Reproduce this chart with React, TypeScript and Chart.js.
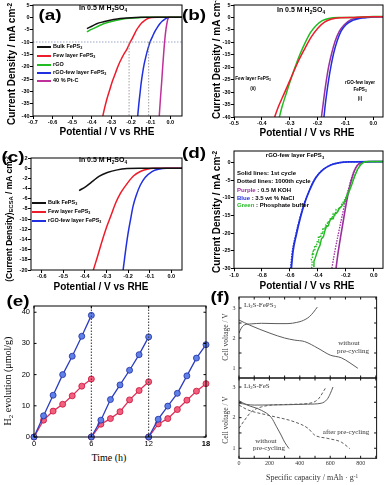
import React, { useEffect, useRef } from "react";
import { Chart, registerables } from "chart.js";

Chart.register(...registerables);

const SANS = '"Liberation Sans", Arial, Helvetica, sans-serif';
const SERIF = '"Liberation Serif", "Times New Roman", Times, serif';

// ===== (a) polarization curves in 0.5 M H2SO4 =====
const aTickV = [-0.7, -0.6, -0.5, -0.4, -0.3, -0.2, -0.1, 0.0];
const aTickJ = [5, 0, -5, -10, -15, -20, -25, -30, -35, -40];
const aBulkV = [-0.425, -0.4, -0.375, -0.34, -0.307, -0.27, -0.239, -0.2, -0.154, -0.1, 0.0, 0.06];
const aBulkJ = [-4.6, -3.6, -2.6, -1.8, -1.2, -0.7, -0.4, -0.15, 0, 0, 0, 0];
const aRgoV = [-0.425, -0.41, -0.39, -0.365, -0.34, -0.305, -0.273, -0.24, -0.205, -0.16, -0.12, 0.0, 0.06];
const aRgoJ = [-5.9, -5.2, -4.5, -3.5, -2.6, -1.8, -1.2, -0.7, -0.4, -0.15, 0, 0, 0];
const aFewV = [-0.344, -0.334, -0.324, -0.311, -0.298, -0.285, -0.273, -0.26, -0.247, -0.235, -0.222, -0.21, -0.197, -0.184, -0.171, -0.158, -0.146, -0.133, -0.12, -0.108, -0.095, -0.07, 0.06];
const aFewJ = [-40, -36.5, -33.4, -30, -26.6, -23.8, -21.2, -18.6, -16.5, -14.7, -13.1, -11, -9.05, -7, -5, -3.5, -2.3, -1.4, -0.7, -0.3, -0.1, 0, 0];
const aHybV = [-0.166, -0.16, -0.154, -0.148, -0.141, -0.133, -0.124, -0.114, -0.103, -0.09, -0.078, -0.065, -0.053, -0.04, -0.027, -0.015, -0.005, 0.06];
const aHybJ = [-40, -35, -30.7, -26.5, -22.6, -19, -15.8, -12.8, -10, -7.7, -5.7, -4, -2.6, -1.5, -0.7, -0.2, 0, 0];
const aPtV = [-0.056, -0.05, -0.044, -0.038, -0.032, -0.027, -0.022, -0.017, -0.012, -0.006, 0.0, 0.06];
const aPtJ = [-40, -33, -26.6, -19.5, -13.1, -8.5, -5, -2.5, -0.7, 0, 0, 0];
const aGuideJ = -10;
const aGuideV = [-0.21, -0.11];

// ===== (b) stability, 0.5 M H2SO4 =====
const bTickV = [-0.5, -0.4, -0.3, -0.2, -0.1, 0.0];
const bTickJ = [5, 0, -5, -10, -15, -20, -25, -30, -35, -40];
const bRedV = [-0.354, -0.34, -0.322, -0.298, -0.272, -0.248, -0.223, -0.199, -0.175, -0.152, -0.116, -0.068, 0.0, 0.035];
const bRedJ = [-40, -35.7, -31.1, -25, -18.3, -13, -7.9, -4.3, -1.9, -0.7, -0.1, 0, 0.3, 0.3];
const bGrnV = [-0.337, -0.327, -0.314, -0.298, -0.28, -0.262, -0.243, -0.225, -0.205, -0.183, -0.16, -0.125, -0.07, 0.0, 0.035];
const bGrnJ = [-40, -35.7, -31.1, -25.5, -19.7, -14.5, -9.8, -6, -3.2, -1.3, -0.4, -0.05, 0, 0.4, 0.4];
const bPurV = [-0.186, -0.181, -0.175, -0.168, -0.16, -0.149, -0.137, -0.122, -0.104, -0.08, -0.056, -0.032, 0.0, 0.035];
const bPurJ = [-40, -35.7, -30.4, -25, -19.7, -14.3, -9.6, -5.6, -2.9, -0.9, -0.3, 0, 0.3, 0.3];
const bBluV = [-0.177, -0.173, -0.167, -0.16, -0.152, -0.142, -0.13, -0.116, -0.098, -0.074, -0.05, -0.02, 0.0, 0.035];
const bBluJ = [-40, -35.7, -30.4, -25, -19.7, -14.3, -9.6, -5.6, -2.9, -1.2, -0.4, 0, 0.2, 0.3];

// ===== (c) ECSA-normalised =====
const cTickV = [-0.6, -0.5, -0.4, -0.3, -0.2, -0.1, 0.0];
const cTickJ = [2, 0, -2, -4, -6, -8, -10, -12, -14, -16, -18, -20];
const cBulkV = [-0.427, -0.396, -0.365, -0.335, -0.296, -0.25, -0.204, -0.15, 0.05];
const cBulkJ = [-4.4, -3.6, -2.6, -1.6, -0.85, -0.33, -0.07, 0, 0];
const cFewV = [-0.361, -0.342, -0.319, -0.299, -0.281, -0.258, -0.235, -0.204, -0.174, -0.143, -0.112, -0.082, 0.05];
const cFewJ = [-20, -17.4, -14.1, -11.5, -9.5, -6.9, -4.9, -3, -1.5, -0.66, -0.2, 0, 0];
const cHybV = [-0.223, -0.217, -0.209, -0.2, -0.189, -0.177, -0.161, -0.143, -0.12, -0.089, -0.059, -0.02, 0.05];
const cHybJ = [-20, -18, -15.4, -12.8, -10.2, -7.5, -5.2, -3.3, -1.8, -0.66, -0.2, 0, 0];

// ===== (d) rGO-few layer FePS3 in other electrolytes =====
const dTickV = [-1.0, -0.8, -0.6, -0.4, -0.2, 0.0];
const dTickJ = [0, -5, -10, -15, -20, -25, -30];
const dBluV = [-0.59, -0.578, -0.554, -0.526, -0.494, -0.458, -0.415, -0.363, -0.303, -0.243, -0.17, 0.066];
const dBluJ = [-30, -25.2, -20.4, -15.7, -11.4, -7.7, -4.3, -2.0, -0.6, 0, 0.2, 0.3];
const dBluDV = [-0.596, -0.583, -0.558, -0.529, -0.496, -0.46, -0.416, -0.364, -0.303, -0.243, -0.17, 0.066];
const dBluDJ = [-30, -25.2, -20.4, -15.7, -11.4, -7.7, -4.3, -2.0, -0.6, 0, 0.2, 0.3];
const dPurV = [-0.27, -0.255, -0.235, -0.215, -0.195, -0.175, -0.155, -0.135, -0.115, -0.095, -0.07, 0.0, 0.066];
const dPurJ = [-30, -25.5, -20.5, -15.8, -11.2, -7.3, -4.2, -2.0, -0.7, -0.1, 0.2, 0.3, 0.3];
const dPurDV = [-0.3, -0.28, -0.255, -0.23, -0.205, -0.18, -0.158, -0.137, -0.117, -0.095, -0.07, 0.0, 0.066];
const dPurDJ = [-30, -25.5, -20.5, -15.8, -11.2, -7.3, -4.2, -2.0, -0.7, -0.1, 0.2, 0.3, 0.3];
const dGrnV = [-0.434, -0.428, -0.42, -0.41, -0.398, -0.385, -0.374, -0.36, -0.35, -0.339, -0.325, -0.315, -0.303, -0.29, -0.28, -0.268, -0.255, -0.245, -0.232, -0.215, -0.196, -0.178, -0.16, -0.136, -0.112, -0.09, -0.07, -0.04, 0.0, 0.066];
const dGrnJ = [-29.4, -28.0, -27.2, -26.0, -24.6, -23.5, -21.6, -21.0, -19.4, -18.2, -17.9, -16.5, -15.8, -15.9, -14.6, -14.4, -13.6, -13.0, -12.5, -11.5, -10.0, -8.4, -6.6, -3.8, -1.6, -0.4, 0.1, 0.3, 0.3, 0.3];
const dGrnDV = [-0.445, -0.44, -0.447, -0.438, -0.442, -0.43, -0.436, -0.42, -0.425, -0.41, -0.404, -0.392, -0.398, -0.38, -0.375, -0.362, -0.366, -0.35, -0.343, -0.335, -0.33, -0.318, -0.31, -0.3, -0.29, -0.278, -0.27, -0.258, -0.25, -0.24, -0.228, -0.215, -0.2, -0.18, -0.162, -0.14, -0.118, -0.095, -0.075, -0.05, 0.0, 0.066];
const dGrnDJ = [-30, -28.5, -27.4, -26.8, -25.6, -26.2, -24.7, -25.0, -23.6, -23.8, -22.2, -22.6, -20.9, -21.3, -19.8, -20.2, -18.6, -18.9, -17.8, -18.3, -16.7, -17.1, -15.6, -16.0, -14.5, -14.9, -13.4, -13.9, -12.6, -13.0, -11.6, -11.0, -9.8, -8.0, -6.3, -4.0, -2.0, -0.6, 0, 0.3, 0.3, 0.3];

// ===== (e) H2 evolution cycles =====
const eTickT = [0, 6, 12, 18];
const eTickH = [0, 10, 20, 30, 40];
const eT1 = [0, 1, 2, 3, 4, 5, 6];
const eT2 = [6, 7, 8, 9, 10, 11, 12];
const eT3 = [12, 13, 14, 15, 16, 17, 18];
const eBlue1 = [0, 6.8, 13.4, 20, 25.9, 32.3, 39];
const eBlue2 = [0, 5.4, 12, 16.7, 21.4, 26.4, 32.1];
const eBlue3 = [0, 5.7, 9.9, 14, 19.6, 25.3, 29.6];
const eRed1 = [0, 5.4, 8.3, 10.5, 13.2, 16.3, 18.6];
const eRed2 = [0, 4.1, 5.9, 8.1, 11.9, 14.9, 17.7];
const eRed3 = [0, 4.2, 5.9, 8.8, 11.8, 14.7, 17.1];
const eDivT = [6, 12];

// ===== (f) Li2S cells =====
const fTickCap = [0, 200, 400, 600, 800];
const fTickV = [1, 2, 3];
const fMinorCap = [0, 100, 200, 300, 400, 500, 600, 700, 800, 900];
const fMinorV = [1, 1.5, 2, 2.5, 3];
const fTopChgC = [0, 15, 37, 80, 147, 250, 322, 380, 410, 440, 465, 490, 515];
const fTopChgV = [2.16, 2.33, 2.44, 2.47, 2.49, 2.48, 2.48, 2.52, 2.56, 2.63, 2.72, 2.86, 3.03];
const fTopDisC = [0, 70, 204, 300, 366, 432, 519, 600, 673, 730, 782];
const fTopDisV = [2.6, 2.43, 2.16, 2.0, 1.93, 1.88, 1.66, 1.43, 1.34, 1.17, 0.99];
const fBotChgC = [0, 100, 300, 450, 540, 580, 600, 618];
const fBotChgV = [2.47, 2.41, 2.42, 2.44, 2.47, 2.6, 2.78, 3.0];
const fBotDisC = [0, 50, 147, 213, 245, 280, 300, 329];
const fBotDisV = [2.55, 2.42, 2.24, 2.0, 1.72, 1.4, 1.2, 0.99];
const fBotChgDC = [0, 37, 81, 147, 300, 450, 520, 568];
const fBotChgDV = [1.65, 1.92, 2.19, 2.35, 2.43, 2.46, 2.6, 2.96];
const fBotDisDC = [0, 60, 191, 366, 454, 498, 585, 673, 728];
const fBotDisDV = [2.41, 2.25, 2.08, 1.86, 1.65, 1.43, 1.32, 1.2, 0.99];

const pts = (xs: number[], ys: number[]) => xs.map((x, i) => ({ x, y: ys[i] }));
const curve = (xs: number[], ys: number[], color: string, width = 1.5, extra: any = {}) => ({
  data: pts(xs, ys),
  borderColor: color,
  borderWidth: width,
  pointRadius: 0,
  fill: false,
  cubicInterpolationMode: "monotone",
  ...extra,
});
const seg = (x1: number, y1: number, x2: number, y2: number, color: string, width = 0.8) => ({
  data: [{ x: x1, y: y1 }, { x: x2, y: y2 }],
  borderColor: color,
  borderWidth: width,
  borderDash: [1.5, 1.5],
  pointRadius: 0,
  fill: false,
});
const marked = (xs: number[], ys: number[], line: string, fillC: string, edge: string) => ({
  data: pts(xs, ys),
  borderColor: line,
  borderWidth: 1.3,
  pointRadius: 3,
  pointBackgroundColor: fillC,
  pointBorderColor: edge,
  pointBorderWidth: 0.8,
  fill: false,
  tension: 0,
  clip: false,
});

const framePlugin: any = {
  id: "frame",
  afterDatasetsDraw(chart: any, _a: any, o: any) {
    const { ctx, chartArea: a } = chart;
    ctx.save();
    ctx.strokeStyle = o.color || "#000";
    ctx.lineWidth = o.width || 1;
    ctx.strokeRect(a.left, a.top, a.right - a.left, a.bottom - a.top);
    const len = o.inLen || 0;
    if (len) {
      const xs = chart.scales.x;
      const ys = chart.scales.y;
      ctx.beginPath();
      for (const v of o.inX || []) {
        const p = xs.getPixelForValue(v);
        ctx.moveTo(p, a.bottom); ctx.lineTo(p, a.bottom - len);
        ctx.moveTo(p, a.top); ctx.lineTo(p, a.top + len);
      }
      for (const v of o.inY || []) {
        const p = ys.getPixelForValue(v);
        ctx.moveTo(a.left, p); ctx.lineTo(a.left + len, p);
        ctx.moveTo(a.right, p); ctx.lineTo(a.right - len, p);
      }
      ctx.stroke();
    }
    ctx.restore();
  },
};

type Ax = {
  min: number; max: number; ticks: number[]; labels?: boolean; fmt?: (v: number) => string;
  size?: number; family?: string; weight?: string; color?: string; tickLen?: number; pad?: number; boldAt?: number;
};
function axis(o: Ax) {
  const tl = o.tickLen ?? 0;
  return {
    type: "linear",
    min: o.min,
    max: o.max,
    afterBuildTicks: (s: any) => { s.ticks = o.ticks.map((v) => ({ value: v })); },
    grid: { display: tl > 0, drawOnChartArea: false, drawTicks: tl > 0, tickLength: tl, color: "#000", lineWidth: 1 },
    border: { display: false },
    ticks: {
      display: o.labels !== false,
      autoSkip: false,
      maxRotation: 0,
      minRotation: 0,
      padding: o.pad ?? 0.5,
      color: o.color ?? "#000",
      font: (c: any) => ({
        family: o.family ?? SANS,
        size: o.size ?? 5.5,
        weight: o.boldAt !== undefined && c.tick && c.tick.value === o.boldAt ? "bold" : o.weight ?? "bold",
      }),
      callback: (v: any) => (o.fmt ? o.fmt(Number(v)) : String(v)),
    },
  };
}

type Spec = { L: number; T: number; R: number; B: number; wy: number; x: any; y: any; datasets: any[]; frame: any };

function PanelChart({ s }: { s: Spec }) {
  const ref = useRef<HTMLCanvasElement | null>(null);
  const padT = 10;
  const cl = s.L - s.wy;
  const ct = s.T - padT;
  const W = Math.ceil(s.R - cl + 10);
  const H = Math.ceil(s.B - ct + 14);
  const padR = W - (s.R - cl);
  const hx = H - (s.B - ct);
  useEffect(() => {
    const chart = new Chart(ref.current as HTMLCanvasElement, {
      type: "line",
      data: { datasets: s.datasets },
      options: {
        responsive: false,
        animation: false,
        events: [],
        devicePixelRatio: 1,
        layout: { padding: { top: padT, right: padR, bottom: 0, left: 0 } },
        scales: {
          x: { ...s.x, afterFit: (sc: any) => { sc.height = hx; } },
          y: { ...s.y, afterFit: (sc: any) => { sc.width = s.wy; } },
        },
        plugins: { legend: { display: false }, tooltip: { enabled: false }, frame: s.frame },
      } as any,
      plugins: [framePlugin],
    });
    return () => chart.destroy();
  }, []);
  return (
    <canvas ref={ref} width={W} height={H}
      style={{ position: "absolute", left: cl, top: ct, width: W, height: H }} />
  );
}

const pot = (v: number) => v.toFixed(1);

const RED = "#ee1c2a";
const GRN = "#22bb22";
const BLU = "#2030e0";
const PNK = "#c0309a";
const PUR = "#9a2f9e";

const specA: Spec = {
  L: 32.7, T: 5.3, R: 181.7, B: 116.3, wy: 22,
  x: axis({ min: -0.7, max: 0.06, ticks: aTickV, fmt: pot, tickLen: 3 }),
  y: axis({ min: -40, max: 5, ticks: aTickJ, tickLen: 3 }),
  frame: { color: "#000", width: 1 },
  datasets: [
    seg(-0.7, aGuideJ, 0.06, aGuideJ, "#8090b8"),
    seg(aGuideV[0], aGuideJ, aGuideV[0], -40, "#888"),
    seg(aGuideV[1], aGuideJ, aGuideV[1], -40, "#888"),
    curve(aBulkV, aBulkJ, "#111"),
    curve(aRgoV, aRgoJ, GRN),
    curve(aFewV, aFewJ, RED),
    curve(aHybV, aHybJ, BLU),
    curve(aPtV, aPtJ, PNK),
  ],
};

const specB: Spec = {
  L: 234.3, T: 5.3, R: 383.3, B: 117.3, wy: 22,
  x: axis({ min: -0.5, max: 0.035, ticks: bTickV, fmt: pot, tickLen: 3 }),
  y: axis({ min: -40, max: 5, ticks: bTickJ, tickLen: 3 }),
  frame: { color: "#000", width: 1 },
  datasets: [
    curve(bRedV, bRedJ, RED),
    curve(bGrnV, bGrnJ, GRN),
    curve(bBluV, bBluJ, BLU),
    curve(bPurV, bPurJ, PUR),
  ],
};

const specC: Spec = {
  L: 30.7, T: 158, R: 181.7, B: 270, wy: 22,
  x: axis({ min: -0.65, max: 0.05, ticks: cTickV, fmt: pot, tickLen: 3 }),
  y: axis({ min: -20, max: 2, ticks: cTickJ, tickLen: 3 }),
  frame: { color: "#000", width: 1 },
  datasets: [
    curve(cBulkV, cBulkJ, "#111"),
    curve(cFewV, cFewJ, RED),
    curve(cHybV, cHybJ, BLU),
  ],
};

const specD: Spec = {
  L: 234.3, T: 151, R: 383.3, B: 268.3, wy: 22,
  x: axis({ min: -1.0, max: 0.066, ticks: dTickV, fmt: pot, tickLen: 3 }),
  y: axis({ min: -30, max: 3.3, ticks: dTickJ, tickLen: 3 }),
  frame: { color: "#000", width: 1 },
  datasets: [
    curve(dGrnDV, dGrnDJ, GRN, 1.3, { cubicInterpolationMode: "default", tension: 0, borderDash: [1.5, 1.2] }),
    curve(dGrnV, dGrnJ, GRN, 1.4, { cubicInterpolationMode: "default", tension: 0 }),
    curve(dBluDV, dBluDJ, BLU, 1.3, { borderDash: [1.5, 1.2] }),
    curve(dBluV, dBluJ, BLU, 1.8),
    curve(dPurDV, dPurDJ, PUR, 1.3, { borderDash: [1.5, 1.2] }),
    curve(dPurV, dPurJ, PUR, 1.6),
  ],
};

const specE: Spec = {
  L: 34, T: 306, R: 206, B: 437, wy: 24,
  x: axis({ min: 0, max: 18, ticks: eTickT, size: 7.5, weight: "normal", boldAt: 18, pad: 2.5 }),
  y: axis({ min: 0, max: 42, ticks: eTickH, size: 7.5, weight: "normal", pad: 4 }),
  frame: { color: "#000", width: 1, inLen: 2.5, inX: eTickT, inY: eTickH },
  datasets: [
    seg(eDivT[0], 0, eDivT[0], 42, "#333", 1),
    seg(eDivT[1], 0, eDivT[1], 42, "#333", 1),
    marked(eT1, eBlue1, "#2b3dbf", "#5f80e8", "#1f2f9f"),
    marked(eT2, eBlue2, "#2b3dbf", "#5f80e8", "#1f2f9f"),
    marked(eT3, eBlue3, "#2b3dbf", "#5f80e8", "#1f2f9f"),
    marked(eT1, eRed1, "#e0305a", "#f2607e", "#c8103a"),
    marked(eT2, eRed2, "#e0305a", "#f2607e", "#c8103a"),
    marked(eT3, eRed3, "#e0305a", "#f2607e", "#c8103a"),
  ],
};

const F_GRAY = "#5c5c5c";
const specFTop: Spec = {
  L: 239.4, T: 297, R: 377, B: 378, wy: 16,
  x: axis({ min: 0, max: 905, ticks: fTickCap, labels: false }),
  y: axis({ min: 0.667, max: 3.367, ticks: fTickV, size: 6, family: SERIF, weight: "normal", color: "#333", pad: 3.5 }),
  frame: { color: "#111", width: 1, inLen: 2.5, inX: fMinorCap, inY: fMinorV },
  datasets: [
    curve(fTopChgC, fTopChgV, F_GRAY, 1),
    curve(fTopDisC, fTopDisV, F_GRAY, 1),
  ],
};
const specFBot: Spec = {
  L: 239.4, T: 378, R: 377, B: 458.3, wy: 16,
  x: axis({ min: 0, max: 905, ticks: fTickCap, size: 6, family: SERIF, weight: "normal", color: "#333", pad: 2 }),
  y: axis({ min: 0.672, max: 3.295, ticks: fTickV, size: 6, family: SERIF, weight: "normal", color: "#333", pad: 3.5 }),
  frame: { color: "#111", width: 1, inLen: 2.5, inX: fMinorCap, inY: fMinorV },
  datasets: [
    curve(fBotChgDC, fBotChgDV, F_GRAY, 1, { borderDash: [3, 2] }),
    curve(fBotDisDC, fBotDisDV, F_GRAY, 1, { borderDash: [3, 2] }),
    curve(fBotChgC, fBotChgV, F_GRAY, 1),
    curve(fBotDisC, fBotDisV, F_GRAY, 1),
  ],
};

type TP = {
  x: number; y: number; s: number; w?: string; f?: string; c?: string; rot?: boolean;
  a?: "center" | "left"; sx?: number; children?: React.ReactNode;
};
function T({ x, y, s, w = "bold", f = SANS, c = "#000", rot = false, a = "center", sx = 1, children }: TP) {
  const tx = a === "center" ? "-50%" : "0";
  return (
    <div style={{
      position: "absolute", left: x, top: y, fontSize: s, fontWeight: w as any, fontFamily: f, color: c,
      whiteSpace: "nowrap", lineHeight: 1,
      transformOrigin: a === "center" ? "center" : "left center",
      transform: `translate(${tx},-50%)${rot ? " rotate(-90deg)" : ""}${sx !== 1 ? ` scaleX(${sx})` : ""}`,
    }}>{children}</div>
  );
}
const Sub = ({ c }: { c: string }) => <span style={{ fontSize: "0.68em", verticalAlign: "-0.3em" }}>{c}</span>;
const Sup = ({ c }: { c: string }) => <span style={{ fontSize: "0.65em", verticalAlign: "0.5em" }}>{c}</span>;

function Swatch({ x, y, color, children, size = 5.5 }: { x: number; y: number; color: string; size?: number; children?: React.ReactNode }) {
  return (
    <>
      <div style={{ position: "absolute", left: x, top: y - 1, width: 14, height: 2.2, background: color }} />
      <T x={x + 16} y={y} s={size} a="left">{children}</T>
    </>
  );
}

const H2SO4 = (
  <>In 0.5 M H<Sub c="2" />SO<Sub c="4" /></>
);
const CD = (
  <>Current Density / mA cm<Sup c="-2" /></>
);

export default function App() {
  return (
    <div style={{ position: "absolute", left: 0, top: 0, width: 392, height: 485, overflow: "hidden", background: "#fff" }}>
      <PanelChart s={specA} />
      <PanelChart s={specB} />
      <PanelChart s={specC} />
      <PanelChart s={specD} />
      <PanelChart s={specE} />
      <PanelChart s={specFTop} />
      <PanelChart s={specFBot} />

      {/* (a) */}
      <T x={50} y={15} s={14} sx={1.35}>(a)</T>
      <T x={103} y={9} s={7}>{H2SO4}</T>
      <Swatch x={37} y={47.3} color="#111">Bulk FePS<Sub c="3" /></Swatch>
      <Swatch x={37} y={56} color={RED}>Few layer FePS<Sub c="3" /></Swatch>
      <Swatch x={37} y={65} color={GRN}>rGO</Swatch>
      <Swatch x={37} y={72.7} color={BLU}>rGO-few layer FePS<Sub c="3" /></Swatch>
      <Swatch x={37} y={80.7} color={PNK}>40 % Pt-C</Swatch>
      <T x={12} y={64} s={10} rot>{CD}</T>
      <T x={107} y={132} s={10}>Potential / V vs RHE</T>

      {/* (b) */}
      <T x={194} y={15} s={14} sx={1.35}>(b)</T>
      <T x={301} y={11} s={7}>{H2SO4}</T>
      <T x={253} y={80} s={4.6}>Few layer FePS<Sub c="3" /></T>
      <T x={253} y={89} s={4.6}>(ii)</T>
      <T x={360} y={83} s={4.6}>rGO-few layer</T>
      <T x={360} y={90.5} s={4.6}>FePS<Sub c="3" /></T>
      <T x={360} y={99} s={4.6}>(i)</T>
      <T x={217} y={58} s={10} rot>{CD}</T>
      <T x={307} y={133} s={10}>Potential / V vs RHE</T>

      {/* (c) */}
      <T x={13} y={157} s={14} sx={1.35}>(c)</T>
      <T x={103} y={160.5} s={7}>{H2SO4}</T>
      <Swatch x={32} y={203} color="#111">Bulk FePS<Sub c="3" /></Swatch>
      <Swatch x={32} y={212} color={RED}>Few layer FePS<Sub c="3" /></Swatch>
      <Swatch x={32} y={221} color={BLU}>rGO-few layer FePS<Sub c="3" /></Swatch>
      <T x={10} y={219} s={8.5} rot>(Current Density)<Sub c="ECSA" /> / mA cm<Sup c="-2" /></T>
      <T x={101} y={287} s={10}>Potential / V vs RHE</T>

      {/* (d) */}
      <T x={194} y={153} s={14} sx={1.35}>(d)</T>
      <T x={295} y={156} s={6}>rGO-few layer FePS<Sub c="3" /></T>
      <T x={237} y={173} s={6} a="left">Solid lines: 1st cycle</T>
      <T x={237} y={181} s={6} a="left">Dotted lines: 1000th cycle</T>
      <T x={237} y={190} s={6} a="left"><span style={{ color: PUR }}>Purple</span> : 0.5 M KOH</T>
      <T x={237} y={197.5} s={6} a="left"><span style={{ color: BLU }}>Blue</span> : 3.5 wt % NaCl</T>
      <T x={237} y={205} s={6} a="left"><span style={{ color: GRN }}>Green</span> : Phosphate buffer</T>
      <T x={217} y={212} s={10} rot>{CD}</T>
      <T x={307} y={286} s={10}>Potential / V vs RHE</T>

      {/* (e) */}
      <T x={18} y={301} s={14} sx={1.35}>(e)</T>
      <T x={9} y={381} s={10} w="normal" f={SERIF} rot>H<Sub c="2" /> evolution (μmol/g)</T>
      <T x={109} y={458} s={10} w="normal" f={SERIF}>Time (h)</T>

      {/* (f) */}
      <T x={220} y={297} s={14} sx={1.35}>(f)</T>
      <T x={244} y={306} s={7} w="normal" f={SERIF} c="#333" a="left">Li<Sub c="2" />S-FePS<Sub c="3" /></T>
      <T x={349} y={343} s={7} w="normal" f={SERIF} c="#333">without</T>
      <T x={353} y={350.5} s={7} w="normal" f={SERIF} c="#333">pre-cycling</T>
      <T x={244} y={387} s={7} w="normal" f={SERIF} c="#333" a="left">Li<Sub c="2" />S-FeS</T>
      <T x={346} y={432} s={7} w="normal" f={SERIF} c="#333">after pre-cycling</T>
      <T x={266} y={440.5} s={7} w="normal" f={SERIF} c="#333">without</T>
      <T x={269} y={448} s={7} w="normal" f={SERIF} c="#333">pre-cycling</T>
      <T x={226} y={337} s={7.5} w="normal" f={SERIF} c="#333" rot>Cell voltage / V</T>
      <T x={226} y={420} s={7.5} w="normal" f={SERIF} c="#333" rot>Cell voltage / V</T>
      <T x={312} y={478} s={8} w="normal" f={SERIF} c="#333">Specific capacity / mAh · g<Sup c="-1" /></T>
    </div>
  );
}
